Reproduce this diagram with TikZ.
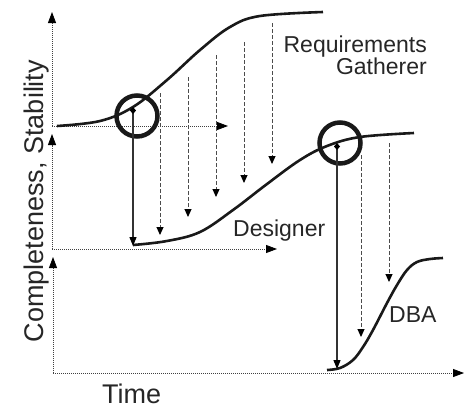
\documentclass[tikz,border=0pt]{standalone}
\usepackage{fontspec}
\setmainfont{Liberation Sans}
\usetikzlibrary{arrows.meta,positioning}

\begin{document}
\begin{tikzpicture}[x=1pt,y=-1pt]
	\tikzstyle{Axis}	= [line width=0.8pt, black!75, dash pattern=on 1pt off 1pt, -{Triangle[length=11pt,width=8pt,color=black]}]
	\tikzstyle{Curve}	= [line width=2.6pt, black!90]
	\tikzstyle{Ring}	= [circle, draw, line width=4.5pt, black!90, minimum size=41pt, inner sep=0pt]
	\tikzstyle{Pick}	= [line width=1.3pt, black!80, {Diamond[length=7pt,width=6pt,color=black]}-{Triangle[length=9pt,width=7pt,color=black]}]
	\tikzstyle{Drop}	= [line width=1pt, black!70, dash pattern=on 4pt off 2pt, -{Triangle[length=8pt,width=7pt,color=black]}]
	\tikzstyle{Role}	= [inner sep=0pt, text=black!85, font=\fontsize{23}{22}\selectfont]
	\tikzstyle{Title}	= [inner sep=0pt, text=black!85, font=\fontsize{27}{27}\selectfont]

	\useasboundingbox (0,0) rectangle (470,408);

	% three charts, one above the other
	\foreach \n/\x/\o/\t/\e in {1/52/126/12/228, 2/52/249/134/277, 3/53/373/257/464} {
		\coordinate (o\n) at (\x,\o);
		\coordinate (y\n) at (\x,\t);
		\coordinate (x\n) at (\e,\o);
		\draw [Axis] (o\n) -- (y\n);
		\draw [Axis] (o\n) -- (x\n);
	}

	\draw [Curve] plot[smooth, tension=0.6] coordinates {(57,126) (100,121) (133,107) (167,80) (200,50) (230,27) (260,16) (323,12)};
	\draw [Curve] plot[smooth, tension=0.6] coordinates {(133,245) (167,241) (200,232) (233,210) (267,184) (300,160) (327,146) (360,137) (414,133)};
	\draw [Curve] plot[smooth, tension=0.6] coordinates {(327,370) (340,368) (353,360) (363,347) (373,330) (387,303) (397,285) (407,270) (417,262) (430,259) (443,258)};

	\node (rgring) at (137,116) [Ring] {};
	\node (dsring) at (340,143) [Ring] {};

	\coordinate (rgpick) at (133,107);
	\coordinate (dsstart) at (133,246);
	\coordinate (dspick) at (337,143);
	\coordinate (dbastart) at (337,369);
	\draw [Pick] (rgpick) -- (dsstart);
	\draw [Pick] (dspick) -- (dbastart);

	\foreach \x/\a/\b [count=\i] in {160/93/235, 188/77/217, 216/55/197, 244/42/183, 272/23/164, 361/155/337, 389/143/282} {
		\coordinate (top\i) at (\x,\a);
		\coordinate (bot\i) at (\x,\b);
		\draw [Drop] (top\i) -- (bot\i);
	}

	\node (rg) at (427,36) [Role, anchor=north east, align=right] {Requirements\\Gatherer};
	\node (ds) at (233,236) [Role, anchor=base west] {Designer};
	\node (dba) at (389,322) [Role, anchor=base west] {DBA};
	\node (time) at (102,403) [Title, anchor=base west] {Time};
	\node (yl) at (43,201) [Title, anchor=base, rotate=90] {Completeness, Stability};
\end{tikzpicture}
\end{document}
